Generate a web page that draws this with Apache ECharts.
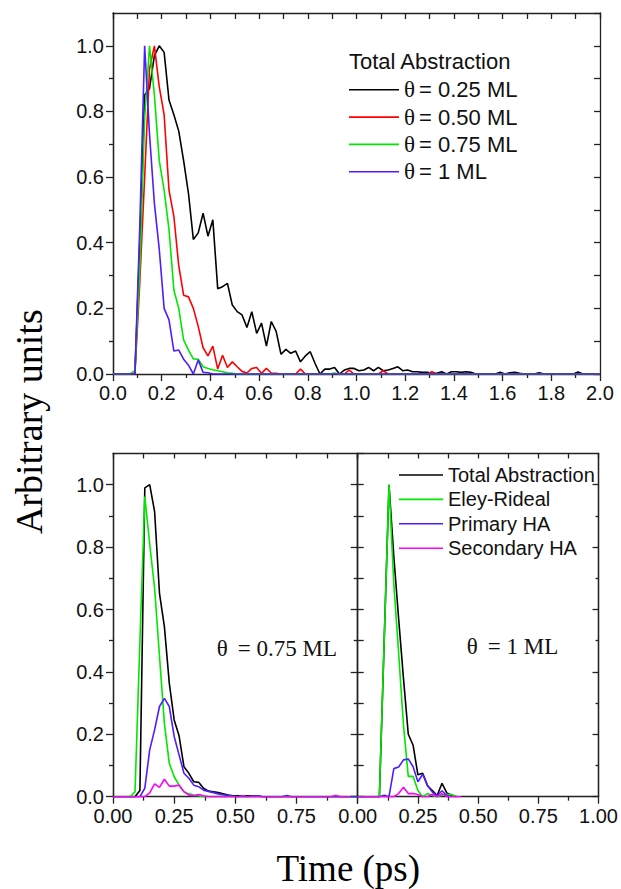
<!DOCTYPE html>
<html>
<head>
<meta charset="utf-8">
<title>Abstraction time distributions</title>
<script src="https://cdn.jsdelivr.net/npm/echarts@6/dist/echarts.min.js"></script>
<style>
  html, body { margin: 0; padding: 0; background: #fff; }
  #chart { width: 621px; height: 889px; }
</style>
</head>
<body>
<div id="chart"></div>
<script>
// ---- Top panel: total abstraction for four coverages, [time (ps), normalised yield]
const cov025 = [[0,0],[0.09,0],[0.11,0.4],[0.13,0.85],[0.15,0.87],[0.17,0.97],[0.19,1.0],[0.21,0.98],[0.23,0.835],[0.25,0.79],[0.27,0.74],[0.29,0.65],[0.31,0.55],[0.33,0.41],[0.35,0.43],[0.37,0.49],[0.39,0.42],[0.41,0.47],[0.43,0.26],[0.45,0.266],[0.47,0.276],[0.49,0.21],[0.51,0.19],[0.53,0.18],[0.55,0.142],[0.57,0.19],[0.59,0.124],[0.61,0.155],[0.63,0.085],[0.65,0.16],[0.67,0.13],[0.69,0.06],[0.71,0.075],[0.73,0.063],[0.75,0.07],[0.77,0.037],[0.79,0.055],[0.81,0.068],[0.83,0.032],[0.85,0],[0.87,0.015],[0.89,0.015],[0.91,0.02],[0.93,0],[0.95,0.012],[0.97,0.017],[0.99,0.017],[1.01,0.01],[1.03,0.012],[1.05,0.02],[1.07,0.01],[1.09,0.02],[1.11,0.01],[1.13,0.012],[1.15,0.017],[1.17,0.022],[1.19,0.01],[1.21,0.012],[1.23,0.007],[1.25,0.007],[1.27,0.005],[1.29,0.005],[1.31,0.002],[1.33,0.002],[1.35,0.007],[1.37,0],[1.39,0.007],[1.41,0.007],[1.43,0.005],[1.45,0.007],[1.47,0.005],[1.49,0],[1.57,0],[1.59,0.005],[1.61,0],[1.63,0.004],[1.65,0.005],[1.67,0.002],[1.69,0],[1.73,0],[1.75,0.004],[1.77,0],[1.89,0],[1.91,0.006],[1.93,0],[2.0,0]];
const cov050 = [[0,0],[0.09,0],[0.11,0.28],[0.13,0.6],[0.15,0.93],[0.17,1.0],[0.19,0.875],[0.21,0.79],[0.23,0.56],[0.25,0.48],[0.27,0.33],[0.29,0.24],[0.31,0.235],[0.33,0.2],[0.35,0.145],[0.37,0.08],[0.39,0.055],[0.41,0.085],[0.43,0.015],[0.45,0.057],[0.47,0.02],[0.49,0.037],[0.51,0.022],[0.53,0.008],[0.55,0.003],[0.57,0.017],[0.59,0.02],[0.61,0.002],[0.63,0.017],[0.65,0.003],[0.67,0.002],[0.69,0],[0.75,0],[0.77,0.015],[0.79,0],[0.95,0],[0.97,0.012],[0.99,0],[1.09,0],[1.11,0.01],[1.13,0],[1.29,0],[1.31,0.007],[1.33,0],[2.0,0]];
const cov075 = [[0,0],[0.07,0],[0.09,0.01],[0.11,0.32],[0.13,0.78],[0.15,1.0],[0.17,0.85],[0.19,0.65],[0.21,0.56],[0.23,0.44],[0.25,0.256],[0.27,0.2],[0.29,0.104],[0.31,0.073],[0.33,0.046],[0.35,0.045],[0.37,0.022],[0.39,0.017],[0.41,0.013],[0.43,0.01],[0.45,0.007],[0.47,0.004],[0.49,0.002],[0.51,0],[0.89,0],[0.91,0.003],[0.93,0],[2.0,0]];
const cov100 = [[0,0],[0.09,0],[0.11,0.45],[0.13,1.0],[0.15,0.73],[0.17,0.52],[0.19,0.38],[0.21,0.2],[0.23,0.165],[0.25,0.07],[0.27,0.073],[0.29,0.045],[0.31,0.027],[0.33,0],[0.35,0.043],[0.37,0.005],[0.39,0.004],[0.41,0],[2.0,0]];

// ---- Bottom-left panel: theta = 0.75 ML, channel breakdown
const ml075Total = [[0,0],[0.09,0],[0.11,0.02],[0.13,0.99],[0.15,1.0],[0.17,0.914],[0.19,0.652],[0.21,0.545],[0.23,0.364],[0.25,0.246],[0.27,0.195],[0.29,0.096],[0.31,0.075],[0.33,0.048],[0.35,0.046],[0.37,0.027],[0.39,0.018],[0.41,0.016],[0.43,0.013],[0.45,0.009],[0.47,0.005],[0.49,0.003],[0.51,0.003],[0.53,0.002],[0.55,0.003],[0.57,0.002],[0.59,0.003],[0.61,0],[1.0,0]];
const ml075ER = [[0,0],[0.07,0],[0.09,0.016],[0.11,0.5],[0.13,0.962],[0.15,0.81],[0.17,0.668],[0.19,0.45],[0.21,0.235],[0.23,0.107],[0.25,0.064],[0.27,0.037],[0.29,0.016],[0.31,0.009],[0.33,0.005],[0.35,0.003],[0.37,0],[1.0,0]];
const ml075PHA = [[0,0],[0.11,0],[0.13,0.027],[0.15,0.15],[0.17,0.214],[0.19,0.289],[0.21,0.315],[0.23,0.289],[0.25,0.193],[0.27,0.134],[0.29,0.075],[0.31,0.059],[0.33,0.037],[0.35,0.032],[0.37,0.021],[0.39,0.017],[0.41,0.013],[0.43,0.009],[0.45,0.006],[0.47,0.004],[0.49,0.002],[0.51,0],[0.55,0],[0.57,0.003],[0.59,0.003],[0.61,0],[0.69,0],[0.71,0.004],[0.73,0],[1.0,0]];
const ml075SHA = [[0,0],[0.13,0],[0.15,0.012],[0.17,0.041],[0.19,0.03],[0.21,0.056],[0.23,0.034],[0.25,0.034],[0.27,0.037],[0.29,0.016],[0.31,0.005],[0.33,0.003],[0.35,0.007],[0.37,0.003],[0.39,0],[0.51,0],[0.53,0.003],[0.55,0],[0.89,0],[0.91,0.004],[0.93,0],[0.97,0]];

// ---- Bottom-right panel: theta = 1 ML, channel breakdown
const ml100Total = [[0,0],[0.09,0],[0.11,0.5],[0.13,1.0],[0.15,0.77],[0.17,0.57],[0.19,0.38],[0.21,0.2],[0.23,0.165],[0.25,0.07],[0.27,0.075],[0.29,0.035],[0.31,0.02],[0.33,0.004],[0.35,0.043],[0.37,0.012],[0.39,0.005],[0.41,0]];
const ml100ER = [[0,0],[0.09,0],[0.11,0.5],[0.13,1.0],[0.15,0.68],[0.17,0.46],[0.19,0.23],[0.21,0.065],[0.23,0.065],[0.25,0.02],[0.27,0],[0.29,0.01],[0.31,0.004],[0.33,0],[0.35,0.005],[0.37,0.008],[0.39,0.007],[0.41,0]];
const ml100PHA = [[0,0],[0.09,0],[0.11,0.005],[0.13,0],[0.15,0.09],[0.17,0.095],[0.19,0.118],[0.21,0.121],[0.23,0.096],[0.25,0.048],[0.27,0.072],[0.29,0.035],[0.31,0.015],[0.33,0.003],[0.35,0.019],[0.37,0.004],[0.39,0]];
const ml100SHA = [[0,0],[0.15,0],[0.17,0.01],[0.19,0.03],[0.21,0.01],[0.23,0.01],[0.25,0.007],[0.27,0],[0.29,0],[0.31,0.008],[0.33,0],[0.35,0.01],[0.37,0],[0.43,0]];

// ---- Names and tick values
const coverageNames = ['θ = 0.25 ML', 'θ = 0.50 ML', 'θ = 0.75 ML', 'θ = 1 ML'];
const channelNames = ['Total Abstraction', 'Eley-Rideal', 'Primary HA', 'Secondary HA'];
const yMajorTicks = [0, 0.2, 0.4, 0.6, 0.8, 1.0];
const yMinorTicks = [0.1, 0.3, 0.5, 0.7, 0.9];

const COLORS = { black: '#000000', red: '#ff0000', green: '#00e800', blue: '#4f1cff', magenta: '#ff00ff' };
const AXIS = '#222';
const SANS = '"Liberation Sans", Arial, sans-serif';
const SERIF = '"Liberation Serif", "Times New Roman", serif';
const TICK_FONT = 20;

const chart = echarts.init(document.getElementById('chart'), null, { renderer: 'svg' });

const axisLineStyle = { color: AXIS, width: 1.3 };

function xAxis(grid, o) {
  return {
    type: 'value', gridIndex: grid, min: 0, max: o.max, interval: o.interval,
    position: o.top ? 'top' : 'bottom',
    splitLine: { show: false },
    axisLine: { show: true, onZero: false, lineStyle: axisLineStyle },
    axisTick: { show: true, inside: !!o.inside, length: o.len, lineStyle: axisLineStyle },
    minorTick: o.minor ? { show: true, splitNumber: 2, length: 4, lineStyle: axisLineStyle } : { show: false },
    axisLabel: o.digits != null ? {
      show: true, margin: 9, fontSize: TICK_FONT, fontFamily: SANS, color: '#111',
      showMaxLabel: o.hideMax ? false : true,
      formatter: v => v.toFixed(o.digits)
    } : { show: false }
  };
}

function yAxis(grid, o) {
  const tick = { show: true, inside: !!o.inside, length: o.len, lineStyle: axisLineStyle };
  if (o.ticks) tick.customValues = o.ticks;
  const ax = {
    type: 'value', gridIndex: grid, min: 0, max: 1.1,
    position: o.right ? 'right' : 'left',
    splitLine: { show: false },
    axisLine: { show: true, onZero: false, lineStyle: axisLineStyle },
    axisTick: tick,
    axisLabel: o.labels ? {
      show: true, margin: 9, fontSize: TICK_FONT, fontFamily: SANS, color: '#111',
      customValues: yMajorTicks, formatter: v => v.toFixed(1)
    } : { show: false }
  };
  if (o.interval) ax.interval = o.interval;
  return ax;
}

function line(name, data, color, xi, yi) {
  return {
    type: 'line', name: name, data: data, xAxisIndex: xi, yAxisIndex: yi,
    symbol: 'none', showSymbol: false, animation: false, silent: true,
    lineStyle: { color: color, width: 1.6 }, itemStyle: { color: color },
    emphasis: { disabled: true }
  };
}

const legendRich = size => ({
  g: { fontFamily: SERIF, fontSize: size + 1, lineHeight: size, color: '#111', padding: [0, 4, 0, 0] },
  s: { fontFamily: SANS, fontSize: size, lineHeight: size, color: '#111' }
});

const option = {
  backgroundColor: '#fff',
  animation: false,
  grid: [
    { left: 113, top: 13, width: 487, height: 361 },
    { left: 113, top: 453.5, width: 244.7, height: 343.2 },
    { left: 357.7, top: 453.5, width: 243.3, height: 343.2 }
  ],
  xAxis: [
    xAxis(0, { max: 2, interval: 0.2, len: 7, minor: true, digits: 1 }),
    xAxis(0, { max: 2, interval: 0.1, len: 6, inside: true, top: true }),
    xAxis(1, { max: 1, interval: 0.25, len: 7, minor: true, digits: 2, hideMax: true }),
    xAxis(1, { max: 1, interval: 0.125, len: 5, inside: true, top: true }),
    xAxis(2, { max: 1, interval: 0.25, len: 7, minor: true, digits: 2 }),
    xAxis(2, { max: 1, interval: 0.125, len: 5, inside: true, top: true })
  ],
  yAxis: [
    yAxis(0, { ticks: yMajorTicks, len: 7, labels: true }),
    yAxis(0, { ticks: yMinorTicks, len: 4 }),
    yAxis(0, { interval: 0.1, len: 6, inside: true, right: true }),
    yAxis(1, { ticks: yMajorTicks, len: 7, labels: true }),
    yAxis(1, { ticks: yMinorTicks, len: 4 }),
    yAxis(1, { interval: 0.1, len: 6, right: true }),
    yAxis(2, { ticks: yMajorTicks, len: 7 }),
    yAxis(2, { ticks: yMinorTicks, len: 4 }),
    yAxis(2, { ticks: yMajorTicks, len: 6, inside: true, right: true }),
    yAxis(2, { ticks: yMinorTicks, len: 3, inside: true, right: true })
  ],
  legend: [
    {
      data: coverageNames, orient: 'vertical', left: 349, top: 78.3, padding: 0,
      icon: 'rect', itemWidth: 50, itemHeight: 1.6, itemGap: 4.3, selectedMode: false,
      formatter: n => '{g|' + n.charAt(0) + '}{s|' + n.slice(2) + '}',
      textStyle: { fontSize: 22, lineHeight: 22, fontFamily: SANS, color: '#111', rich: legendRich(22) }
    },
    {
      data: channelNames, orient: 'vertical', left: 399, top: 465, padding: 0,
      icon: 'rect', itemWidth: 44, itemHeight: 1.6, itemGap: 4.4, selectedMode: false,
      textStyle: { fontSize: 20, lineHeight: 20, fontFamily: SANS, color: '#111' }
    }
  ],
  graphic: [
    { type: 'text', x: 349, y: 61.7, silent: true,
      style: { text: 'Total Abstraction', fontSize: 22, fontFamily: SANS, fill: '#111', verticalAlign: 'middle' } },
    { type: 'text', x: 216.7, y: 648.3, silent: true,
      style: { text: '{g|θ}{s|= 0.75 ML}', verticalAlign: 'middle', fill: '#111',
        rich: { g: { fontFamily: SERIF, fontSize: 23, padding: [0, 10, 0, 0] }, s: { fontFamily: SERIF, fontSize: 23 } } } },
    { type: 'text', x: 466.7, y: 646.7, silent: true,
      style: { text: '{g|θ}{s|= 1 ML}', verticalAlign: 'middle', fill: '#111',
        rich: { g: { fontFamily: SERIF, fontSize: 23, padding: [0, 10, 0, 0] }, s: { fontFamily: SERIF, fontSize: 23 } } } },
    { type: 'text', x: 28.5, y: 421.7, rotation: Math.PI / 2, silent: true,
      style: { text: 'Arbitrary units', fontSize: 38, fontFamily: SERIF, fill: '#000', align: 'center', verticalAlign: 'middle' } },
    { type: 'text', x: 348.3, y: 868, silent: true,
      style: { text: 'Time (ps)', fontSize: 37, fontFamily: SERIF, fill: '#000', align: 'center', verticalAlign: 'middle' } }
  ],
  series: [
    line(coverageNames[0], cov025, COLORS.black, 0, 0),
    line(coverageNames[1], cov050, COLORS.red, 0, 0),
    line(coverageNames[2], cov075, COLORS.green, 0, 0),
    line(coverageNames[3], cov100, COLORS.blue, 0, 0),

    line(channelNames[0], ml075Total, COLORS.black, 2, 3),
    line(channelNames[1], ml075ER, COLORS.green, 2, 3),
    line(channelNames[2], ml075PHA, COLORS.blue, 2, 3),
    line(channelNames[3], ml075SHA, COLORS.magenta, 2, 3),

    line(channelNames[0], ml100Total, COLORS.black, 4, 6),
    line(channelNames[1], ml100ER, COLORS.green, 4, 6),
    line(channelNames[2], ml100PHA, COLORS.blue, 4, 6),
    line(channelNames[3], ml100SHA, COLORS.magenta, 4, 6)
  ]
};

chart.setOption(option);
</script>
</body>
</html>
